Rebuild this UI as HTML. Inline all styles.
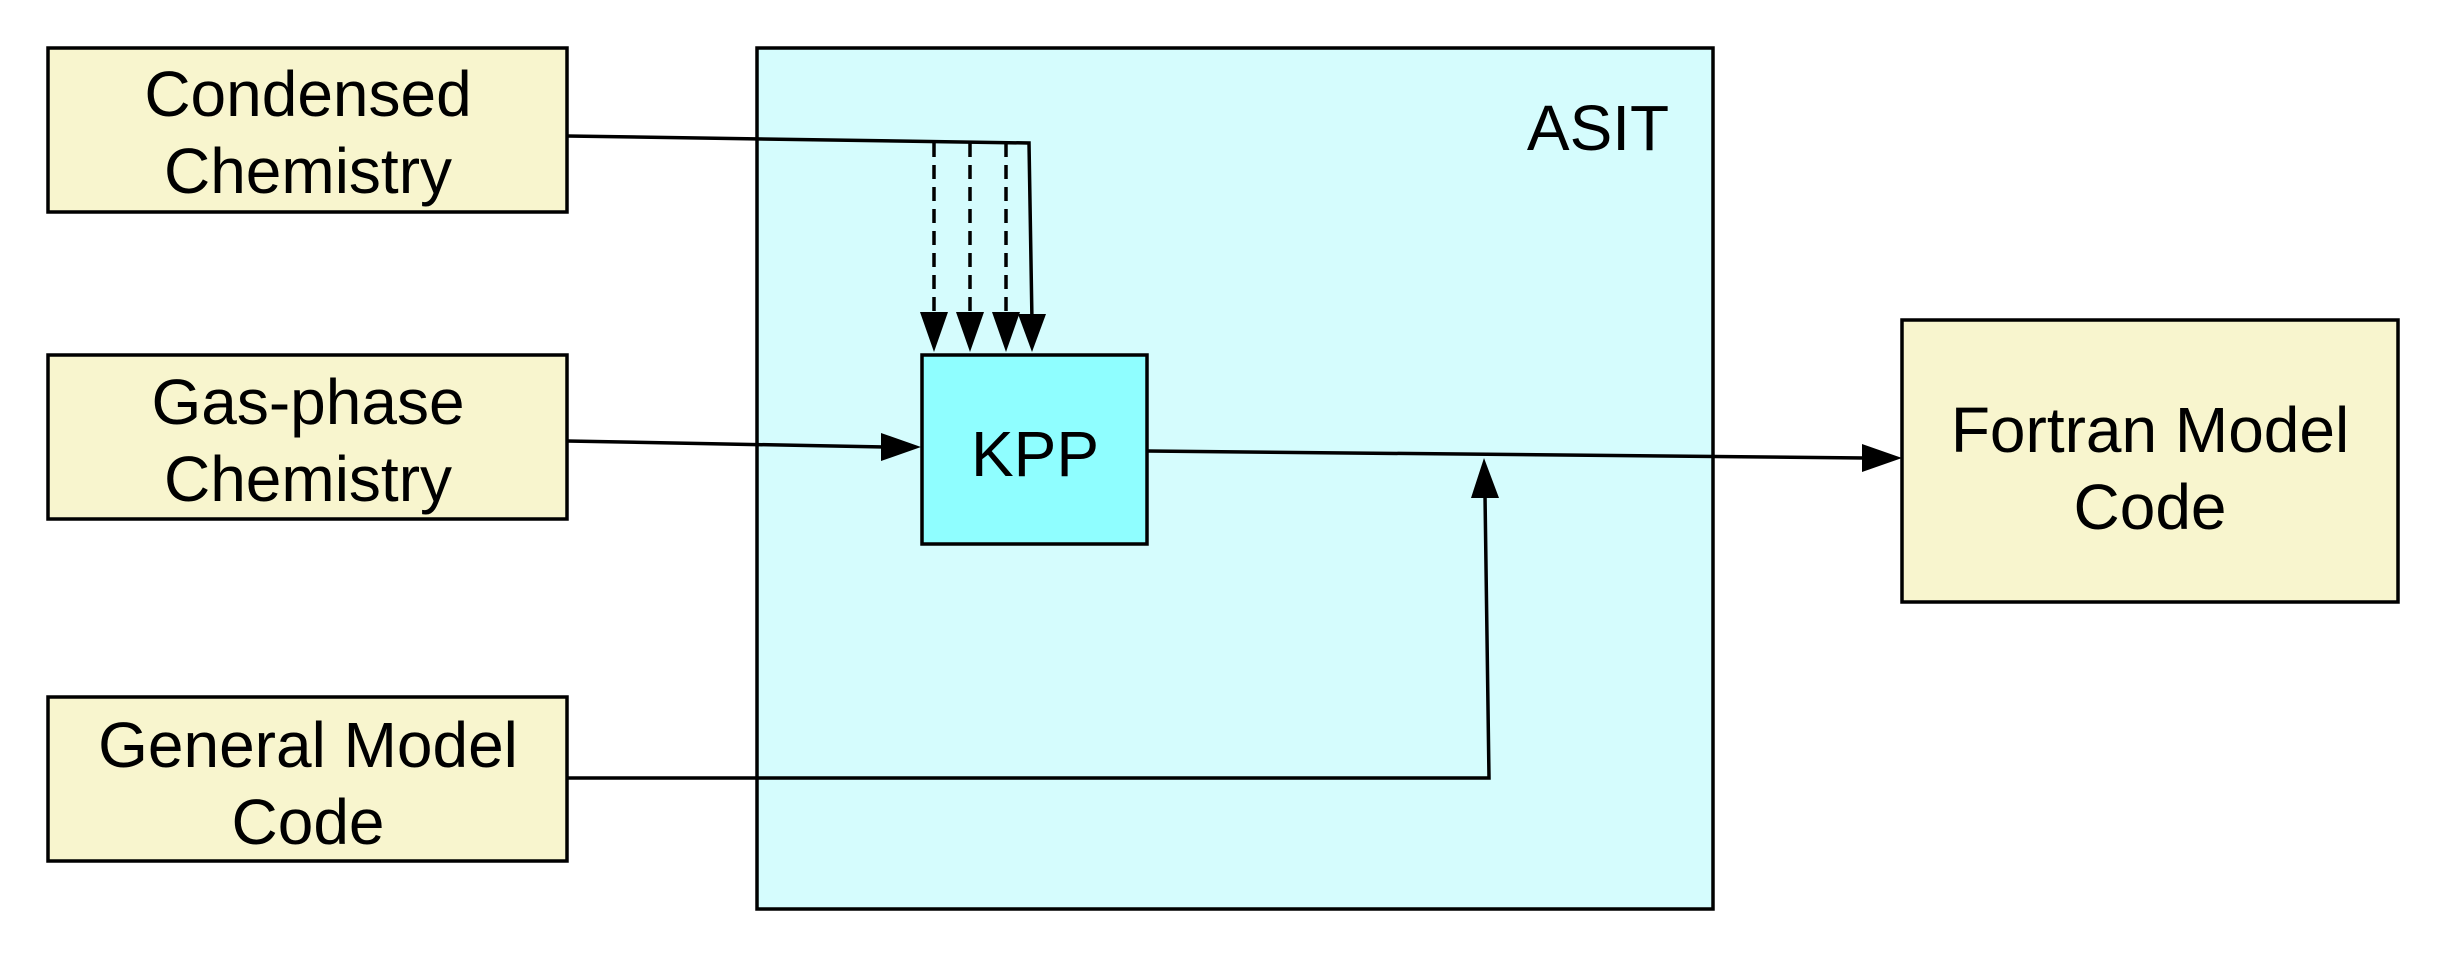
<!DOCTYPE html>
<html><head><meta charset="utf-8"><style>
html,body{margin:0;padding:0;background:#fff;}
svg text{font-family:"Liberation Sans",sans-serif;font-size:64px;fill:#000;text-anchor:middle;}
</style></head><body>
<svg width="2445" height="958" viewBox="0 0 2445 958" xmlns="http://www.w3.org/2000/svg">
<rect x="757" y="48" width="956" height="861" fill="#d5fcfd" stroke="#000" stroke-width="3.5"/>
<rect x="48" y="48" width="519" height="164" fill="#f8f5ce" stroke="#000" stroke-width="3.5"/>
<rect x="48" y="355" width="519" height="164" fill="#f8f5ce" stroke="#000" stroke-width="3.5"/>
<rect x="48" y="697" width="519" height="164" fill="#f8f5ce" stroke="#000" stroke-width="3.5"/>
<rect x="1902" y="320" width="496" height="282" fill="#f8f5ce" stroke="#000" stroke-width="3.5"/>
<rect x="922" y="355" width="225" height="189" fill="#8ffeff" stroke="#000" stroke-width="3.5"/>
<text x="308" y="116">Condensed</text><text x="308" y="193">Chemistry</text>
<text x="308" y="424">Gas-phase</text><text x="308" y="501">Chemistry</text>
<text x="308" y="767">General Model</text><text x="308" y="844">Code</text>
<text x="2150" y="452">Fortran Model</text><text x="2150" y="529">Code</text>
<text x="1035" y="476">KPP</text>
<text x="1598" y="150">ASIT</text>
<g stroke="#000" stroke-width="3.5" fill="none">
<polyline points="567,136 1029,143 1032,322"/>
<line x1="934" y1="143" x2="934" y2="318" stroke-dasharray="14,8"/>
<line x1="970" y1="143" x2="970" y2="318" stroke-dasharray="14,8"/>
<line x1="1006" y1="143" x2="1006" y2="318" stroke-dasharray="14,8"/>
<line x1="567" y1="441" x2="885" y2="447"/>
<line x1="1147" y1="451" x2="1865" y2="458"/>
<polyline points="567,778 1489,778 1485,495"/>
</g>
<g fill="#000">
<polygon points="920,312 948,312 934,352"/>
<polygon points="956,312 984,312 970,352"/>
<polygon points="992,312 1020,312 1006,352"/>
<polygon points="1018,314 1046,314 1032,352"/>
<polygon points="881,433 881,461 921,447"/>
<polygon points="1862,444 1862,472 1902,458"/>
<polygon points="1471,498 1499,498 1484,458"/>
</g>
</svg>
</body></html>
